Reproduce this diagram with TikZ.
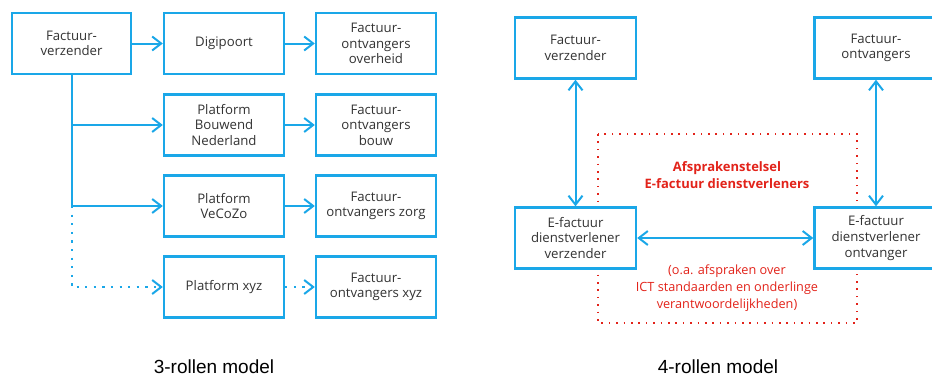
\documentclass[tikz,border=0pt]{standalone}
\usepackage{fontspec}
\setmainfont{Open Sans}
\newfontfamily\titlefont{Liberation Sans}
\usetikzlibrary{arrows.meta}
\definecolor{ebl}{HTML}{1AA7E8}
\definecolor{ered}{HTML}{E2231A}
\definecolor{etxt}{HTML}{333333}
\begin{document}
\begin{tikzpicture}[x=1pt,y=-1pt,
  box/.style={draw=ebl,line width=2.4pt,fill=white,align=center,text=etxt,
    font=\fontsize{13.2}{15.6}\selectfont,inner sep=0pt,minimum height=61pt},
  conn/.style={draw=ebl,line width=2pt},
  tip/.style={-{Straight Barb[length=9pt,width=14pt,line width=2pt]}},
  tips/.style={{Straight Barb[length=9pt,width=14pt,line width=2pt]}-{Straight Barb[length=9pt,width=14pt,line width=2pt]}},
  dotl/.style={dash pattern=on 2.2pt off 6.4pt},
  redt/.style={text=ered,align=center,font=\fontsize{12.7}{17}\selectfont},
  ttl/.style={font=\titlefont\fontsize{19}{22}\selectfont,text=black,anchor=base,inner sep=0pt}]
\useasboundingbox (0,0) rectangle (932,376);
\clip (0,0) rectangle (932,376);
% ---------- 3-rollen model ----------
\node[box,minimum width=119pt] (fv) at (71.5,43.5) {Factuur-\\verzender};
\node[box,minimum width=120pt] (dg) at (224,43.5) {Digipoort};
\node[box,minimum width=120pt] (fo) at (376,43.5) {Factuur-\\ontvangers\\overheid};
\node[box,minimum width=120pt] (bn) at (224,125) {Platform\\Bouwend\\Nederland};
\node[box,minimum width=120pt] (fb) at (376,125) {Factuur-\\ontvangers\\bouw};
\node[box,minimum width=120pt] (vc) at (224,206) {Platform\\VeCoZo};
\node[box,minimum width=120pt] (fz) at (376,206) {Factuur-\\ontvangers zorg};
\node[box,minimum width=120pt] (px) at (224,287) {Platform xyz};
\node[box,minimum width=120pt] (fx) at (376,287) {Factuur-\\ontvangers xyz};
\coordinate (j2) at (fv.south |- bn.west);
\coordinate (j3) at (fv.south |- vc.west);
\coordinate (j4) at (fv.south |- px.west);
\draw[conn,tip] (fv) -- (dg);
\draw[conn,tip] (dg) -- (fo);
\draw[conn,tip] (bn) -- (fb);
\draw[conn,tip] (vc) -- (fz);
\draw[conn,tip,dotl] (px) -- (fx);
\draw[conn] (fv.south) -- (j3);
\draw[conn,tip] (j2) -- (bn.west);
\draw[conn,tip] (j3) -- (vc.west);
\draw[conn,tip,dotl] (j3) -- (j4) -- (px.west);
\node[ttl] (t3) at (214,373) {3-rollen model};
% ---------- 4-rollen model ----------
\draw[draw=ered,line width=1.6pt,dash pattern=on 1.6pt off 5.8pt] (598,134) rectangle (857,323);
\node[box,minimum width=121pt] (rv) at (575.5,48) {Factuur-\\verzender};
\node[box,minimum width=123pt] (ro) at (876,48) {Factuur-\\ontvangers};
\node[box,minimum width=121pt] (dv) at (575.5,238) {E-factuur\\dienstverlener\\verzender};
\node[box,minimum width=123pt] (do) at (876,238) {E-factuur\\dienstverlener\\ontvanger};
\draw[conn,tips] (rv) -- (dv);
\draw[conn,tips] (ro) -- (do);
\draw[conn,tips] (dv) -- (do);
\node[redt,font=\bfseries\fontsize{13}{17}\selectfont] (af) at (727,175.5) {Afsprakenstelsel\\E-factuur dienstverleners};
\node[redt] (oa) at (727,288) {(o.a. afspraken over\\ICT standaarden en onderlinge\\verantwoordelijkheden)};
\node[ttl] (t4) at (718,373) {4-rollen model};
\end{tikzpicture}
\end{document}
